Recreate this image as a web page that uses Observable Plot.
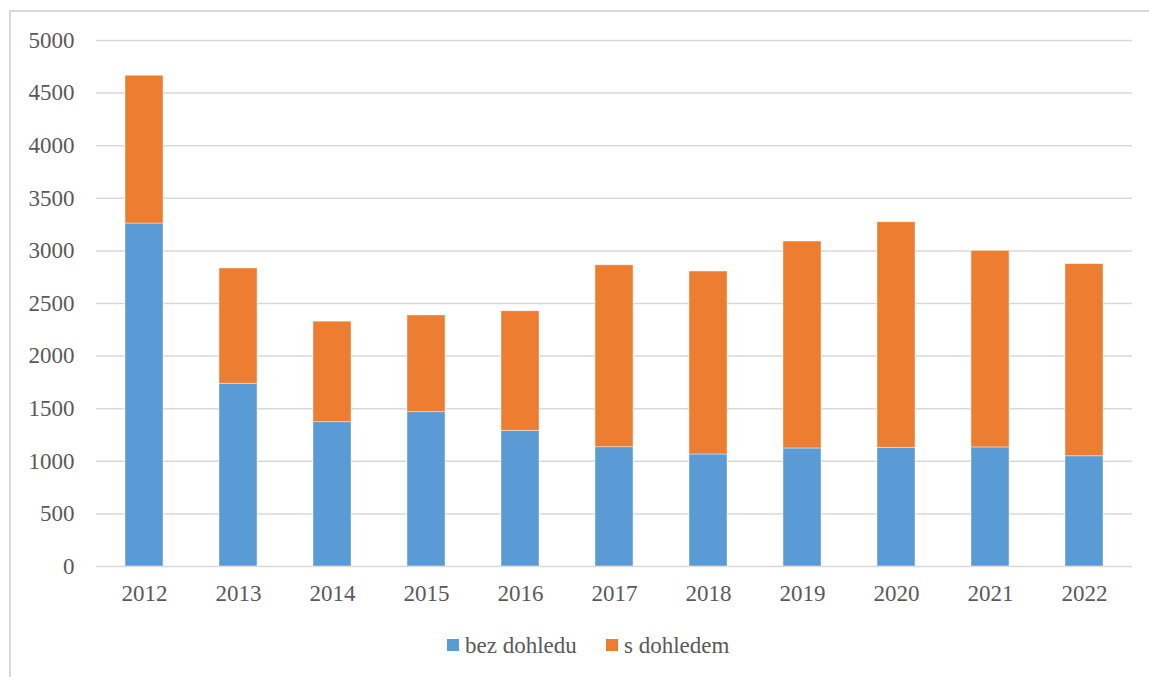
<!DOCTYPE html>
<html>
<head>
<meta charset="utf-8">
<script src="https://cdn.jsdelivr.net/npm/d3@7"></script>
<script src="https://cdn.jsdelivr.net/npm/@observablehq/plot@0.6"></script>
<style>
  html, body { margin: 0; padding: 0; background: #fff; overflow: hidden; }
  body { width: 1149px; height: 677px; position: relative; }
  #frame { position: absolute; left: 9px; top: 10px; width: 1160px; height: 700px; border: 2px solid #d9d9d9; box-sizing: border-box; }
  #chart { position: absolute; left: 0; top: 0; }
</style>
</head>
<body>
<div id="frame"></div>
<div id="chart"></div>
<script>
const years = ["2012","2013","2014","2015","2016","2017","2018","2019","2020","2021","2022"];
const bezDohledu = [3260, 1737, 1372, 1467, 1290, 1134, 1065, 1122, 1128, 1132, 1048];
const sDohledem  = [1405, 1096,  955,  919, 1136, 1729, 1739, 1967, 2144, 1868, 1826];
const seriesNames = ["bez dohledu", "s dohledem"];
const seriesColors = ["#5b9bd5", "#ed7d31"];
const yTicks = [0, 500, 1000, 1500, 2000, 2500, 3000, 3500, 4000, 4500, 5000];

const data = [];
years.forEach((y, i) => {
  data.push({year: y, series: seriesNames[0], value: bezDohledu[i]});
  data.push({year: y, series: seriesNames[1], value: sDohledem[i]});
});

const serif = "'Times New Roman', 'Liberation Serif', 'DejaVu Serif', serif";
const plot = Plot.plot({
  width: 1149,
  height: 677,
  marginLeft: 96,
  marginRight: 17,
  marginTop: 40,
  marginBottom: 111,
  style: { fontFamily: serif, fontSize: "23px", color: "#595959", background: "transparent" },
  x: { domain: years, paddingInner: 0.6, paddingOuter: 0.3, label: null },
  y: { domain: [0, 5000], label: null },
  color: { domain: seriesNames, range: seriesColors },
  marks: [
    Plot.gridY(yTicks, { stroke: "#d9d9d9", strokeOpacity: 1, strokeWidth: 1.5 }),
    Plot.axisY(yTicks, { tickSize: 0, tickPadding: 22, fill: "#595959", fontSize: 23, fontFamily: serif, tickFormat: d => String(d), label: null }),
    Plot.axisX({ tickSize: 0, tickPadding: 18, fill: "#595959", fontSize: 23, fontFamily: serif, label: null }),
    Plot.barY(data, { x: "year", y: "value", fill: "series", order: seriesNames, stroke: "#fff", strokeOpacity: 0.5, strokeWidth: 0.8 })
  ]
});

// Legend below the plot area, inside the same SVG
const lg = d3.select(plot).append("g").attr("class", "legend").attr("text-anchor", "start");
const legendX = [447, 606];
seriesNames.forEach((n, i) => {
  lg.append("rect").attr("x", legendX[i]).attr("y", 639).attr("width", 12).attr("height", 12).attr("fill", seriesColors[i]);
  lg.append("text").attr("x", legendX[i] + 18).attr("y", 645).attr("dy", "0.35em")
    .attr("text-anchor", "start")
    .attr("font-family", serif).attr("font-size", 23).attr("fill", "#595959").text(n);
});
document.getElementById("chart").appendChild(plot);
</script>
</body>
</html>
